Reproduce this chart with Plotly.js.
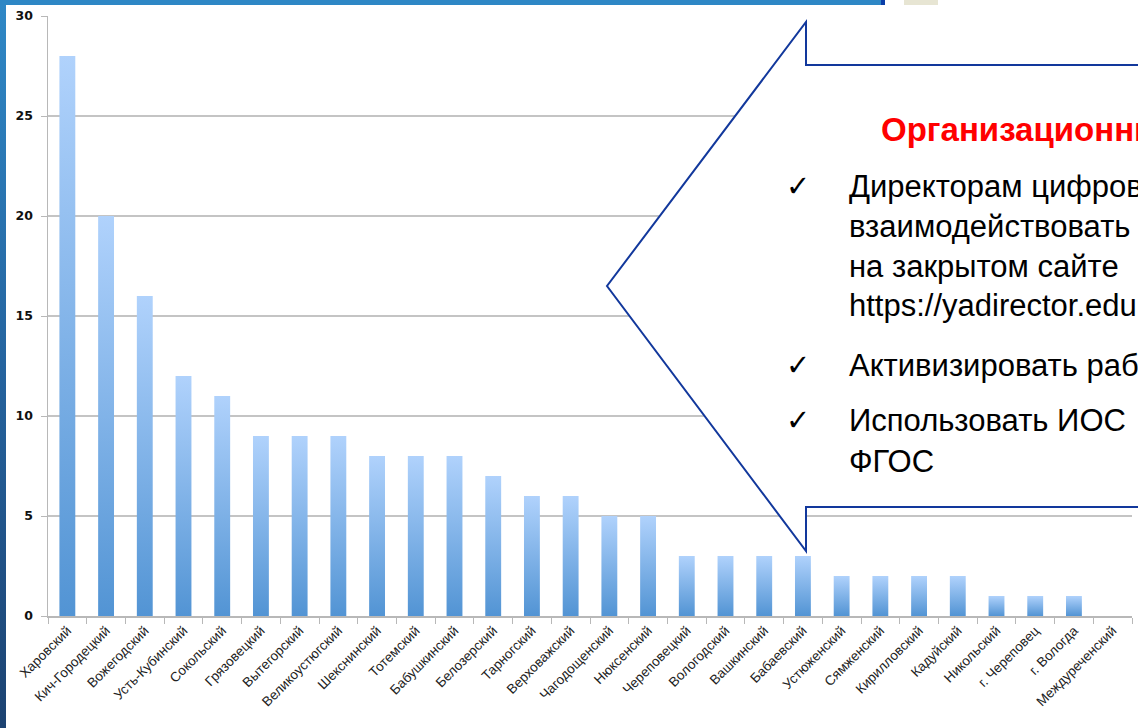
<!DOCTYPE html>
<html><head><meta charset="utf-8">
<script src="https://cdn.plot.ly/plotly-3.0.1.min.js"></script>
<style>
html,body{margin:0;padding:0;background:#fff;width:1138px;height:728px;overflow:hidden}
#deco-left{position:absolute;left:0;top:0;width:6px;height:728px;background:linear-gradient(#2f88c6,#25649f 50%,#1c4271)}
#deco-top{position:absolute;left:0;top:0;width:881px;height:5px;background:#2e87c5;border-right:4px solid #0b3ea8}
#deco-photo{position:absolute;left:904px;top:0;width:34px;height:5px;background:#e7e5d3}
#chart{position:absolute;left:0;top:0;width:1138px;height:728px}
</style></head><body>
<div id="deco-left"></div><div id="deco-top"></div><div id="deco-photo"></div>
<div id="chart"></div>
<script>
const districts = ["Харовский","Кич-Городецкий","Вожегодский","Усть-Кубинский","Сокольский","Грязовецкий","Вытегорский","Великоустюгский","Шекснинский","Тотемский","Бабушкинский","Белозерский","Тарногский","Верховажский","Чагодощенский","Нюксенский","Череповецкий","Вологодский","Вашкинский","Бабаевский","Устюженский","Сямженский","Кирилловский","Кадуйский","Никольский","г. Череповец","г. Вологда","Междуреченский"];
const counts = [28,20,16,12,11,9,9,9,8,8,8,7,6,6,5,5,3,3,3,3,2,2,2,2,1,1,1,0];
const yTicks = [0,5,10,15,20,25,30];

const calloutTitle = "Организационные решения";
const calloutLines = [
  {check:true,  text:"Директорам цифровых школ"},
  {check:false, text:"взаимодействовать"},
  {check:false, text:"на закрытом сайте"},
  {check:false, text:"https://yadirector.edu.ru"},
  {check:true,  text:"Активизировать работу"},
  {check:true,  text:"Использовать ИОС"},
  {check:false, text:"ФГОС"}
];

const W=1138,H=728,ML=48,MR=6,MT=16,MB=112;
const PW=W-ML-MR, PH=H-MT-MB;
const px = x => (x-ML)/PW;
const py = y => (H-MB-y)/PH;

const data=[{
  type:'bar', x:districts, y:counts,
  marker:{color:'#7fb2ea', line:{width:0}},
  hoverinfo:'skip'
}];

const path = `M ${px(806)} ${py(22)} L ${px(806)} ${py(65)} L ${px(1160)} ${py(65)} L ${px(1160)} ${py(507)} L ${px(806)} ${py(507)} L ${px(806)} ${py(551)} L ${px(607)} ${py(286)} Z`;

const lineY=[186,226,266,306,365,420,461];
const annotations=[{
  xref:'paper',yref:'paper',x:px(879),y:py(129),xanchor:'left',yanchor:'middle',
  text:'<b>'+calloutTitle+'</b>',showarrow:false,
  font:{family:'Liberation Sans, Arial',size:33,color:'#ff0000'}
}];
calloutLines.forEach((l,i)=>{
  annotations.push({xref:'paper',yref:'paper',x:px(847),y:py(lineY[i]),xanchor:'left',yanchor:'middle',
    text:l.text,showarrow:false,font:{family:'Liberation Sans, Arial',size:31,color:'#000'}});
  if(l.check) annotations.push({xref:'paper',yref:'paper',x:px(784),y:py(lineY[i]),xanchor:'left',yanchor:'middle',
    text:'✓',showarrow:false,font:{family:'DejaVu Sans',size:29,color:'#000'}});
});

const layout={
  width:W,height:H,
  margin:{l:ML,r:MR,t:MT,b:MB,pad:0},
  paper_bgcolor:'rgba(0,0,0,0)',plot_bgcolor:'rgba(0,0,0,0)',
  showlegend:false,bargap:0.59,
  xaxis:{type:'category',tickangle:-45,tickson:'boundaries',ticks:'outside',ticklen:6,
    tickcolor:'#b8b8b8',showline:true,linecolor:'#b8b8b8',linewidth:1.5,showgrid:false,
    tickfont:{family:'Liberation Sans, Arial',size:13.5,color:'#222'},range:[-0.5,27.5]},
  yaxis:{range:[0,30],tickvals:yTicks,ticktext:yTicks.map(String),ticks:'outside',ticklen:6,
    tickcolor:'#b8b8b8',showline:true,linecolor:'#b8b8b8',linewidth:1.5,
    gridcolor:'#c4c4c4',gridwidth:1.5,zeroline:false,ticklabelstandoff:5,
    tickfont:{family:'DejaVu Sans',size:12.5,color:'#111',weight:'bold'}},
  shapes:[{type:'path',xref:'paper',yref:'paper',path:path,fillcolor:'#ffffff',
    line:{color:'#12389c',width:2},layer:'above'}],
  annotations:annotations
};

Plotly.newPlot('chart',data,layout,{staticPlot:true}).then(gd=>{
  const ns='http://www.w3.org/2000/svg';
  const svg=gd.querySelector('svg.main-svg');
  let defs=svg.querySelector('defs');
  if(!defs){defs=document.createElementNS(ns,'defs');svg.insertBefore(defs,svg.firstChild);}
  const lg=document.createElementNS(ns,'linearGradient');
  lg.setAttribute('id','barGrad');
  lg.setAttribute('x1','0');lg.setAttribute('y1','0');lg.setAttribute('x2','0');lg.setAttribute('y2','1');
  [['0','#b0d2fc'],['1','#5294d4']].forEach(([o,c])=>{
    const s=document.createElementNS(ns,'stop');s.setAttribute('offset',o);s.setAttribute('stop-color',c);lg.appendChild(s);
  });
  defs.appendChild(lg);
  gd.querySelectorAll('.barlayer path').forEach(p=>{p.style.fill='url(#barGrad)';});
});
</script>
</body></html>
